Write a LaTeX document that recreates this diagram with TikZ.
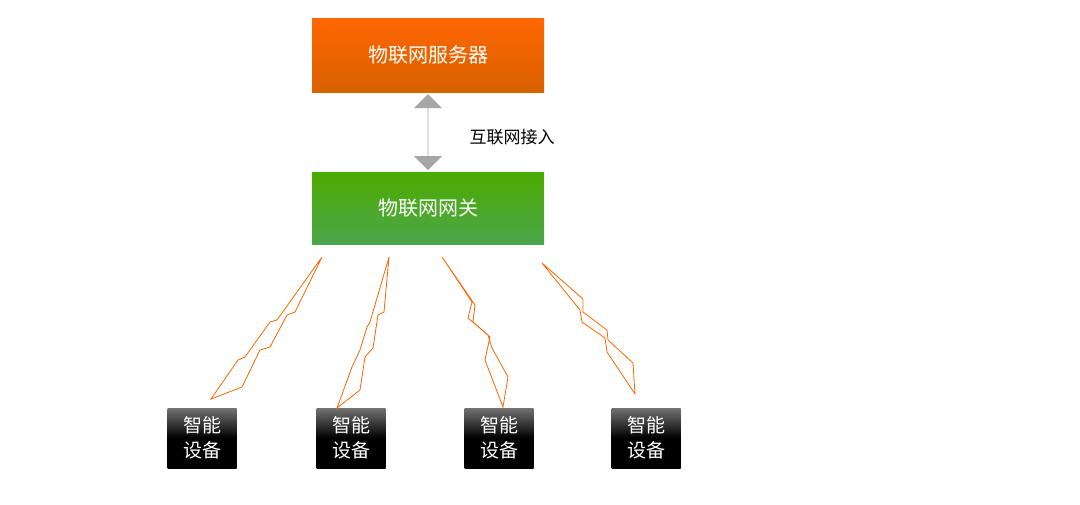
\documentclass[tikz,border=0pt]{standalone}
\usepackage{fontspec}
\newfontfamily\cjk{Noto Sans CJK SC}
\usetikzlibrary{shapes.arrows}
\begin{document}
\begin{tikzpicture}[x=1pt,y=-1pt,
  bigbox/.style={minimum width=232pt,inner sep=0pt,font=\cjk\fontsize{20}{24}\selectfont,text=white},
  dev/.style={minimum width=69pt,minimum height=60pt,inner sep=0pt,align=center,font=\cjk\fontsize{19}{25}\selectfont,text=white,top color=black!55,bottom color=black,middle color=black},
  bolt/.style={draw=orange!80!red,line width=0.8pt,line join=miter}]
\useasboundingbox[fill=white] (0,0) rectangle (1080,504);
\node[bigbox,minimum height=74pt,top color=orange!80!red,bottom color=orange!90!red!85!black] (srv) at (428,55) {物联网服务器};
\node[bigbox,minimum height=72pt,top color=green!45!black!60!lime,bottom color=green!50!black!70] (gw) at (428,208) {物联网网关};
\node[draw=none,fill=gray!70,double arrow,double arrow head extend=6pt,minimum height=76pt,minimum width=28pt,inner sep=0pt,rotate=90] (arr) at (428,132) {};
\node[font=\cjk\fontsize{17}{20}\selectfont,anchor=west] (lab) at (466,137) {互联网接入};
\node[dev] (d1) at (202,438) {智能\\设备};
\node[dev] (d2) at (351,438) {智能\\设备};
\node[dev] (d3) at (499,438) {智能\\设备};
\node[dev] (d4) at (646,438) {智能\\设备};
\draw[bolt] (322,257)--(277,320)--(270,322)--(245,357)--(238,360)--(211,399)--(242,387)--(260,350)--(270,347)--(287,315)--(295,312)--cycle;
\draw[bolt] (389,257)--(370,322)--(367,327)--(360,350)--(352,367)--(337,408)--(360,390)--(365,357)--(373,348)--(378,315)--(384,312)--cycle;
\draw[bolt] (442,257)--(472,302)--(468,318)--(490,337)--(485,360)--(503,407)--(508,377)--(492,348)--(488,335)--(473,322)--(475,305)--cycle;
\draw[bolt] (542,263)--(583,299)--(583,312)--(607,330)--(608,340)--(633,363)--(635,394)--(607,352)--(605,338)--(582,322)--(580,310)--cycle;
\end{tikzpicture}
\end{document}
